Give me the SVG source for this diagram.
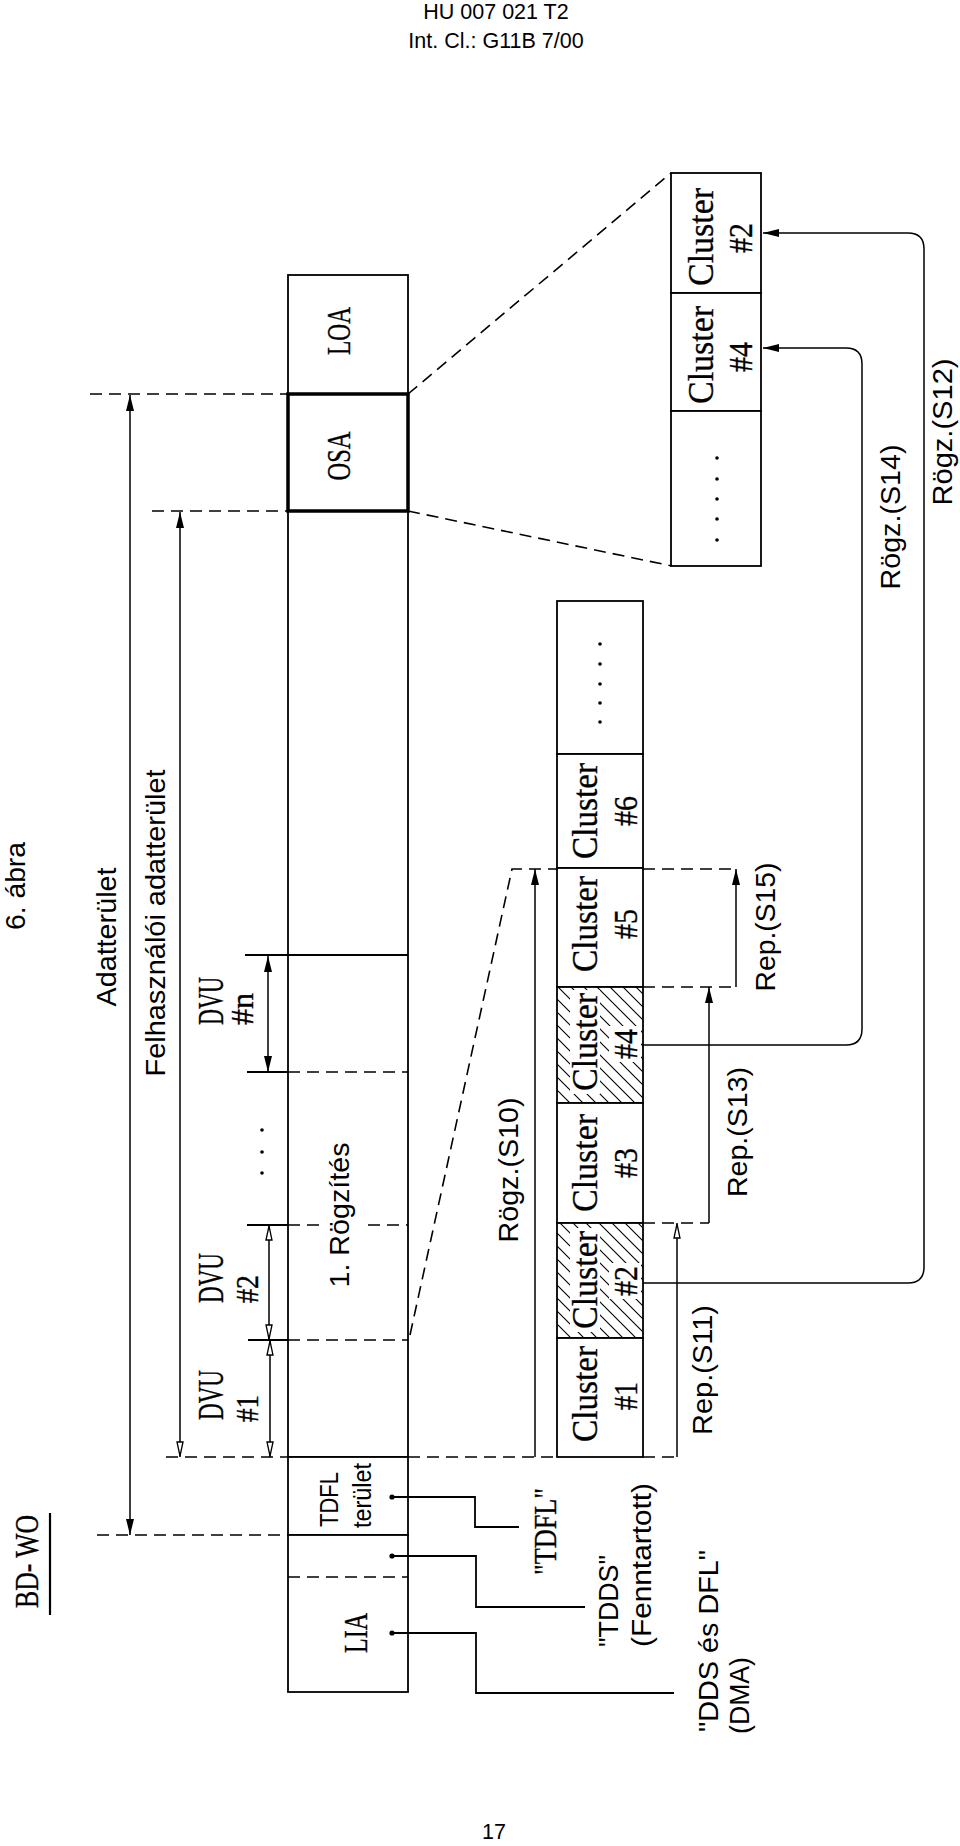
<svg xmlns="http://www.w3.org/2000/svg" width="960" height="1846" viewBox="0 0 960 1846">
<style>
.s{font-family:"Liberation Sans",Arial,sans-serif;fill:#000}
.r{font-family:"Liberation Serif","Times New Roman",serif;fill:#000;stroke:#000;stroke-width:0.35}
.ln{stroke:#000;stroke-width:1.8;fill:none}
.th{stroke:#000;stroke-width:1.5;fill:none}
.d{stroke:#000;stroke-width:1.6;fill:none;stroke-dasharray:12 7}
.box{fill:#fff;stroke:#000;stroke-width:1.8}
.hb{fill:url(#hatch);stroke:#000;stroke-width:1.8}
.ko{fill:#fff;stroke:none}
</style>
<defs>
<marker id="af" viewBox="0 0 16 8" refX="16" refY="4" markerWidth="16" markerHeight="8" markerUnits="userSpaceOnUse" orient="auto-start-reverse"><path d="M0,0 L16,4 L0,8 z" fill="#000"/></marker>
<marker id="ao" viewBox="0 0 16 8" refX="16" refY="4" markerWidth="16" markerHeight="8" markerUnits="userSpaceOnUse" orient="auto-start-reverse"><path d="M1,1 L15,4 L1,7 z" fill="#fff" stroke="#000" stroke-width="1.3"/></marker>
<pattern id="hatch" patternUnits="userSpaceOnUse" width="13" height="13"><rect width="13" height="13" fill="#fff"/><path d="M-1,-1 L14,14 M-1,12 L1,14 M12,-1 L14,1" stroke="#000" stroke-width="1.1"/></pattern>
</defs>
<rect width="960" height="1846" fill="#fff"/>

<g id="header">
<text class="s" font-size="21.5" x="496" y="19" text-anchor="middle">HU 007 021 T2</text>
<text class="s" font-size="21.5" x="496" y="48" text-anchor="middle">Int. Cl.: G11B 7/00</text>
<text class="s" font-size="21.5" x="494" y="1839" text-anchor="middle">17</text>
</g>

<g id="title">
<text class="s" font-size="27" text-anchor="middle" textLength="88" lengthAdjust="spacingAndGlyphs" transform="translate(25,886) rotate(-90)">6. ábra</text>
<text class="r" font-size="33" text-anchor="start" textLength="93" lengthAdjust="spacingAndGlyphs" transform="translate(38,1608) rotate(-90)">BD- WO</text>
<line x1="50" y1="1513" x2="50" y2="1615" stroke="#000" stroke-width="2.2"/>
</g>

<g id="LOA">
<rect class="box" x="288" y="275" width="120" height="119"/>
<text class="r" font-size="34" text-anchor="middle" textLength="48" lengthAdjust="spacingAndGlyphs" transform="translate(350,331) rotate(-90)">LOA</text>
</g>

<g id="user-data">
<rect class="box" x="288" y="511" width="120" height="946"/>
<line class="ln" x1="245" y1="955" x2="408" y2="955"/>
<line class="ln" x1="247" y1="1072" x2="288" y2="1072"/>
<line class="d" x1="288" y1="1072" x2="408" y2="1072"/>
<line class="ln" x1="247" y1="1225" x2="288" y2="1225"/>
<line class="d" x1="288" y1="1225" x2="326" y2="1225"/>
<line class="d" x1="368" y1="1225" x2="408" y2="1225"/>
<line class="ln" x1="248" y1="1340" x2="288" y2="1340"/>
<line class="d" x1="288" y1="1340" x2="408" y2="1340"/>
<circle cx="262" cy="1130" r="1.8"/>
<circle cx="262" cy="1152" r="1.8"/>
<circle cx="262" cy="1173" r="1.8"/>
<text class="s" font-size="28" text-anchor="middle" textLength="145" lengthAdjust="spacingAndGlyphs" transform="translate(349,1215) rotate(-90)">1. Rögzítés</text>
</g>

<g id="OSA">
<rect x="288" y="394" width="120" height="117" fill="#fff" stroke="#000" stroke-width="3.5"/>
<text class="r" font-size="34" text-anchor="middle" textLength="49" lengthAdjust="spacingAndGlyphs" transform="translate(350,456) rotate(-90)">OSA</text>
</g>

<g id="TDFL-area">
<rect class="box" x="288" y="1457" width="120" height="78"/>
<text class="s" font-size="26" text-anchor="start" textLength="55" lengthAdjust="spacingAndGlyphs" transform="translate(338,1527) rotate(-90)">TDFL</text>
<text class="s" font-size="26" text-anchor="start" textLength="65" lengthAdjust="spacingAndGlyphs" transform="translate(371,1528) rotate(-90)">terület</text>
</g>

<g id="LIA">
<rect class="box" x="288" y="1535" width="120" height="157"/>
<line class="d" x1="288" y1="1577" x2="408" y2="1577"/>
<text class="r" font-size="34" text-anchor="middle" textLength="40" lengthAdjust="spacingAndGlyphs" transform="translate(367,1633) rotate(-90)">LIA</text>
</g>

<g id="dimensions">
<line class="d" x1="90" y1="394" x2="288" y2="394"/>
<line class="d" x1="152" y1="511" x2="288" y2="511"/>
<line class="d" x1="166" y1="1457" x2="288" y2="1457"/>
<line class="d" x1="97" y1="1535" x2="288" y2="1535"/>
<line class="th" x1="130" y1="395" x2="130" y2="1535" marker-start="url(#af)" marker-end="url(#af)"/>
<line class="th" x1="180" y1="512" x2="180" y2="1457" marker-start="url(#af)" marker-end="url(#ao)"/>
<line class="th" x1="268" y1="956" x2="268" y2="1072" marker-start="url(#af)" marker-end="url(#af)"/>
<line class="th" x1="269" y1="1225" x2="269" y2="1340" marker-start="url(#ao)" marker-end="url(#ao)"/>
<line class="th" x1="270" y1="1340" x2="270" y2="1457" marker-start="url(#ao)" marker-end="url(#ao)"/>
<text class="s" font-size="28" text-anchor="middle" textLength="139" lengthAdjust="spacingAndGlyphs" transform="translate(116,937) rotate(-90)">Adatterület</text>
<text class="s" font-size="28" text-anchor="middle" textLength="307" lengthAdjust="spacingAndGlyphs" transform="translate(165,923) rotate(-90)">Felhasználói adatterület</text>
<text class="r" font-size="35" text-anchor="start" textLength="48" lengthAdjust="spacingAndGlyphs" transform="translate(223,1025) rotate(-90)">DVU</text>
<text class="r" font-size="31" text-anchor="start" textLength="32" lengthAdjust="spacingAndGlyphs" transform="translate(253,1025) rotate(-90)">#n</text>
<text class="r" font-size="35" text-anchor="start" textLength="50" lengthAdjust="spacingAndGlyphs" transform="translate(223,1303) rotate(-90)">DVU</text>
<text class="r" font-size="31" text-anchor="start" textLength="28" lengthAdjust="spacingAndGlyphs" transform="translate(258,1303) rotate(-90)">#2</text>
<text class="r" font-size="35" text-anchor="start" textLength="50" lengthAdjust="spacingAndGlyphs" transform="translate(223,1420) rotate(-90)">DVU</text>
<text class="r" font-size="31" text-anchor="start" textLength="27" lengthAdjust="spacingAndGlyphs" transform="translate(258,1422) rotate(-90)">#1</text>
</g>

<g id="cluster-strip">
<g id="strip-more"><rect class="box" x="557" y="601" width="86" height="153"/>
<circle cx="600" cy="644" r="1.8"/><circle cx="600" cy="664" r="1.8"/><circle cx="600" cy="684" r="1.8"/><circle cx="600" cy="703" r="1.8"/><circle cx="600" cy="722" r="1.8"/></g>
<g id="strip-c6"><rect class="box" x="557" y="754" width="86" height="114"/>
<text class="r" font-size="35" text-anchor="middle" textLength="96" lengthAdjust="spacingAndGlyphs" transform="translate(597,811) rotate(-90)">Cluster</text>
<text class="r" font-size="34" text-anchor="middle" textLength="30" lengthAdjust="spacingAndGlyphs" transform="translate(637,811) rotate(-90)">#6</text></g>
<g id="strip-c5"><rect class="box" x="557" y="868" width="86" height="119"/>
<text class="r" font-size="35" text-anchor="middle" textLength="96" lengthAdjust="spacingAndGlyphs" transform="translate(597,924) rotate(-90)">Cluster</text>
<text class="r" font-size="34" text-anchor="middle" textLength="30" lengthAdjust="spacingAndGlyphs" transform="translate(637,924) rotate(-90)">#5</text></g>
<g id="strip-c4"><rect class="hb" x="557" y="987" width="86" height="116"/>
<rect class="ko" x="570" y="990" width="30" height="104"/><rect class="ko" x="609" y="1026" width="32" height="36"/>
<text class="r" font-size="35" text-anchor="middle" textLength="98" lengthAdjust="spacingAndGlyphs" transform="translate(597,1042) rotate(-90)">Cluster</text>
<text class="r" font-size="34" text-anchor="middle" textLength="30" lengthAdjust="spacingAndGlyphs" transform="translate(637,1044) rotate(-90)">#4</text></g>
<g id="strip-c3"><rect class="box" x="557" y="1103" width="86" height="120"/>
<text class="r" font-size="35" text-anchor="middle" textLength="98" lengthAdjust="spacingAndGlyphs" transform="translate(597,1163) rotate(-90)">Cluster</text>
<text class="r" font-size="34" text-anchor="middle" textLength="30" lengthAdjust="spacingAndGlyphs" transform="translate(637,1163) rotate(-90)">#3</text></g>
<g id="strip-c2"><rect class="hb" x="557" y="1223" width="86" height="115"/>
<rect class="ko" x="570" y="1228" width="30" height="104"/><rect class="ko" x="609" y="1263" width="32" height="36"/>
<text class="r" font-size="35" text-anchor="middle" textLength="98" lengthAdjust="spacingAndGlyphs" transform="translate(597,1280) rotate(-90)">Cluster</text>
<text class="r" font-size="34" text-anchor="middle" textLength="30" lengthAdjust="spacingAndGlyphs" transform="translate(637,1281) rotate(-90)">#2</text></g>
<g id="strip-c1"><rect class="box" x="557" y="1338" width="86" height="119"/>
<text class="r" font-size="35" text-anchor="middle" textLength="96" lengthAdjust="spacingAndGlyphs" transform="translate(597,1394) rotate(-90)">Cluster</text>
<text class="r" font-size="34" text-anchor="middle" textLength="28" lengthAdjust="spacingAndGlyphs" transform="translate(637,1396) rotate(-90)">#1</text></g>
</g>

<g id="zoom-box">
<g id="zb-c2"><rect class="box" x="671" y="173" width="90" height="120"/>
<text class="r" font-size="35" text-anchor="middle" textLength="98" lengthAdjust="spacingAndGlyphs" transform="translate(713,237) rotate(-90)">Cluster</text>
<text class="r" font-size="34" text-anchor="middle" textLength="30" lengthAdjust="spacingAndGlyphs" transform="translate(752,238) rotate(-90)">#2</text></g>
<g id="zb-c4"><rect class="box" x="671" y="293" width="90" height="118"/>
<text class="r" font-size="35" text-anchor="middle" textLength="98" lengthAdjust="spacingAndGlyphs" transform="translate(713,355) rotate(-90)">Cluster</text>
<text class="r" font-size="34" text-anchor="middle" textLength="30" lengthAdjust="spacingAndGlyphs" transform="translate(752,357) rotate(-90)">#4</text></g>
<g id="zb-more"><rect class="box" x="671" y="411" width="90" height="155"/>
<circle cx="717" cy="458" r="1.8"/><circle cx="717" cy="479" r="1.8"/><circle cx="717" cy="499" r="1.8"/><circle cx="717" cy="519" r="1.8"/><circle cx="717" cy="540" r="1.8"/></g>
</g>

<g id="connectors">
<path class="d" d="M408,394 L671,173"/>
<path class="d" d="M408,511 L672,566"/>
<path class="d" d="M410,1335 L512,869 L557,869"/>
<path class="d" d="M643,869 L736,869"/>
<path class="d" d="M408,1457 L557,1457"/>
<path class="d" d="M643,1457 L677,1457"/>
<path class="d" d="M643,987 L736,987"/>
<path class="d" d="M643,1223 L709,1223"/>
<line class="th" x1="535" y1="1457" x2="535" y2="869" marker-end="url(#af)"/>
<line class="th" x1="677" y1="1457" x2="677" y2="1223" marker-end="url(#ao)"/>
<line class="th" x1="709" y1="1223" x2="709" y2="987" marker-end="url(#af)"/>
<line class="th" x1="736" y1="987" x2="736" y2="869" marker-end="url(#af)"/>
<path class="th" d="M643,1283 H908 Q924,1283 924,1267 V249 Q924,233 908,233 H763" marker-end="url(#af)"/>
<path class="th" d="M643,1045 H846 Q862,1045 862,1029 V364 Q862,348 846,348 H763" marker-end="url(#af)"/>
<circle cx="392" cy="1497" r="2.6"/>
<circle cx="392" cy="1556" r="2.6"/>
<circle cx="392" cy="1633" r="2.6"/>
<path class="ln" d="M392,1497 H475 V1527 H519"/>
<path class="ln" d="M392,1556 H476 V1607 H585"/>
<path class="ln" d="M392,1633 H476 V1693 H674"/>
</g>

<g id="labels">
<text class="s" font-size="28" text-anchor="middle" textLength="145" lengthAdjust="spacingAndGlyphs" transform="translate(518,1170) rotate(-90)">Rögz.(S10)</text>
<text class="s" font-size="28" text-anchor="middle" textLength="130" lengthAdjust="spacingAndGlyphs" transform="translate(712,1370) rotate(-90)">Rep.(S11)</text>
<text class="s" font-size="28" text-anchor="middle" textLength="130" lengthAdjust="spacingAndGlyphs" transform="translate(747,1132) rotate(-90)">Rep.(S13)</text>
<text class="s" font-size="28" text-anchor="middle" textLength="129" lengthAdjust="spacingAndGlyphs" transform="translate(775,927) rotate(-90)">Rep.(S15)</text>
<text class="s" font-size="28" text-anchor="middle" textLength="145" lengthAdjust="spacingAndGlyphs" transform="translate(900,517) rotate(-90)">Rögz.(S14)</text>
<text class="s" font-size="28" text-anchor="middle" textLength="147" lengthAdjust="spacingAndGlyphs" transform="translate(952,432) rotate(-90)">Rögz.(S12)</text>
<text class="r" font-size="32" text-anchor="start" textLength="87" lengthAdjust="spacingAndGlyphs" transform="translate(556,1575) rotate(-90)">"TDFL"</text>
<text class="s" font-size="27" text-anchor="start" textLength="92" lengthAdjust="spacingAndGlyphs" transform="translate(618,1647) rotate(-90)">"TDDS"</text>
<text class="s" font-size="27" text-anchor="start" textLength="164" lengthAdjust="spacingAndGlyphs" transform="translate(651,1647) rotate(-90)">(Fenntartott)</text>
<text class="s" font-size="27" text-anchor="start" textLength="182" lengthAdjust="spacingAndGlyphs" transform="translate(718,1732) rotate(-90)">"DDS és DFL"</text>
<text class="s" font-size="27" text-anchor="start" textLength="77" lengthAdjust="spacingAndGlyphs" transform="translate(749,1734) rotate(-90)">(DMA)</text>
</g>
</svg>
